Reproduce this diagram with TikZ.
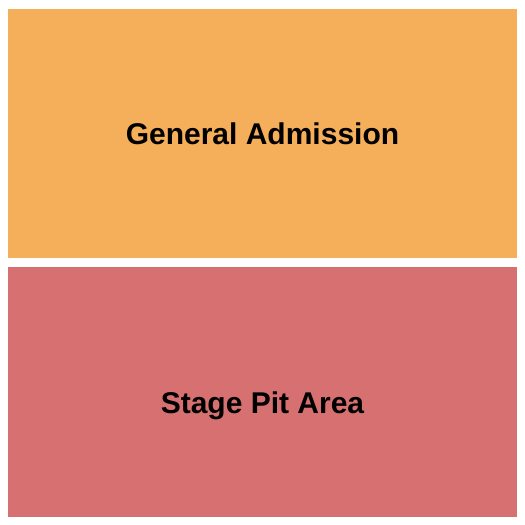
\documentclass[tikz,border=0pt]{standalone}
\usepackage{fontspec}
\setmainfont{Liberation Sans}
\definecolor{gaorange}{RGB}{245,175,90}
\definecolor{pitred}{RGB}{215,112,112}
\begin{document}
\begin{tikzpicture}[x=1pt,y=-1pt,
  section/.style={draw=none,inner sep=0pt,outer sep=0pt},
  label/.style={font=\bfseries\fontsize{30}{32}\selectfont,text=black,inner sep=0pt}]
\useasboundingbox (0,0) rectangle (525,525);
\fill[white] (0,0) rectangle (525,525);
\fill[gaorange] (8,9) rectangle (517,258);
\fill[pitred] (8,267) rectangle (517,517);
\node[label] (ga) at (262.5,134) {General Admission};
\node[label] (pit) at (262.5,406) {Stage Pit Area};
\end{tikzpicture}
\end{document}
